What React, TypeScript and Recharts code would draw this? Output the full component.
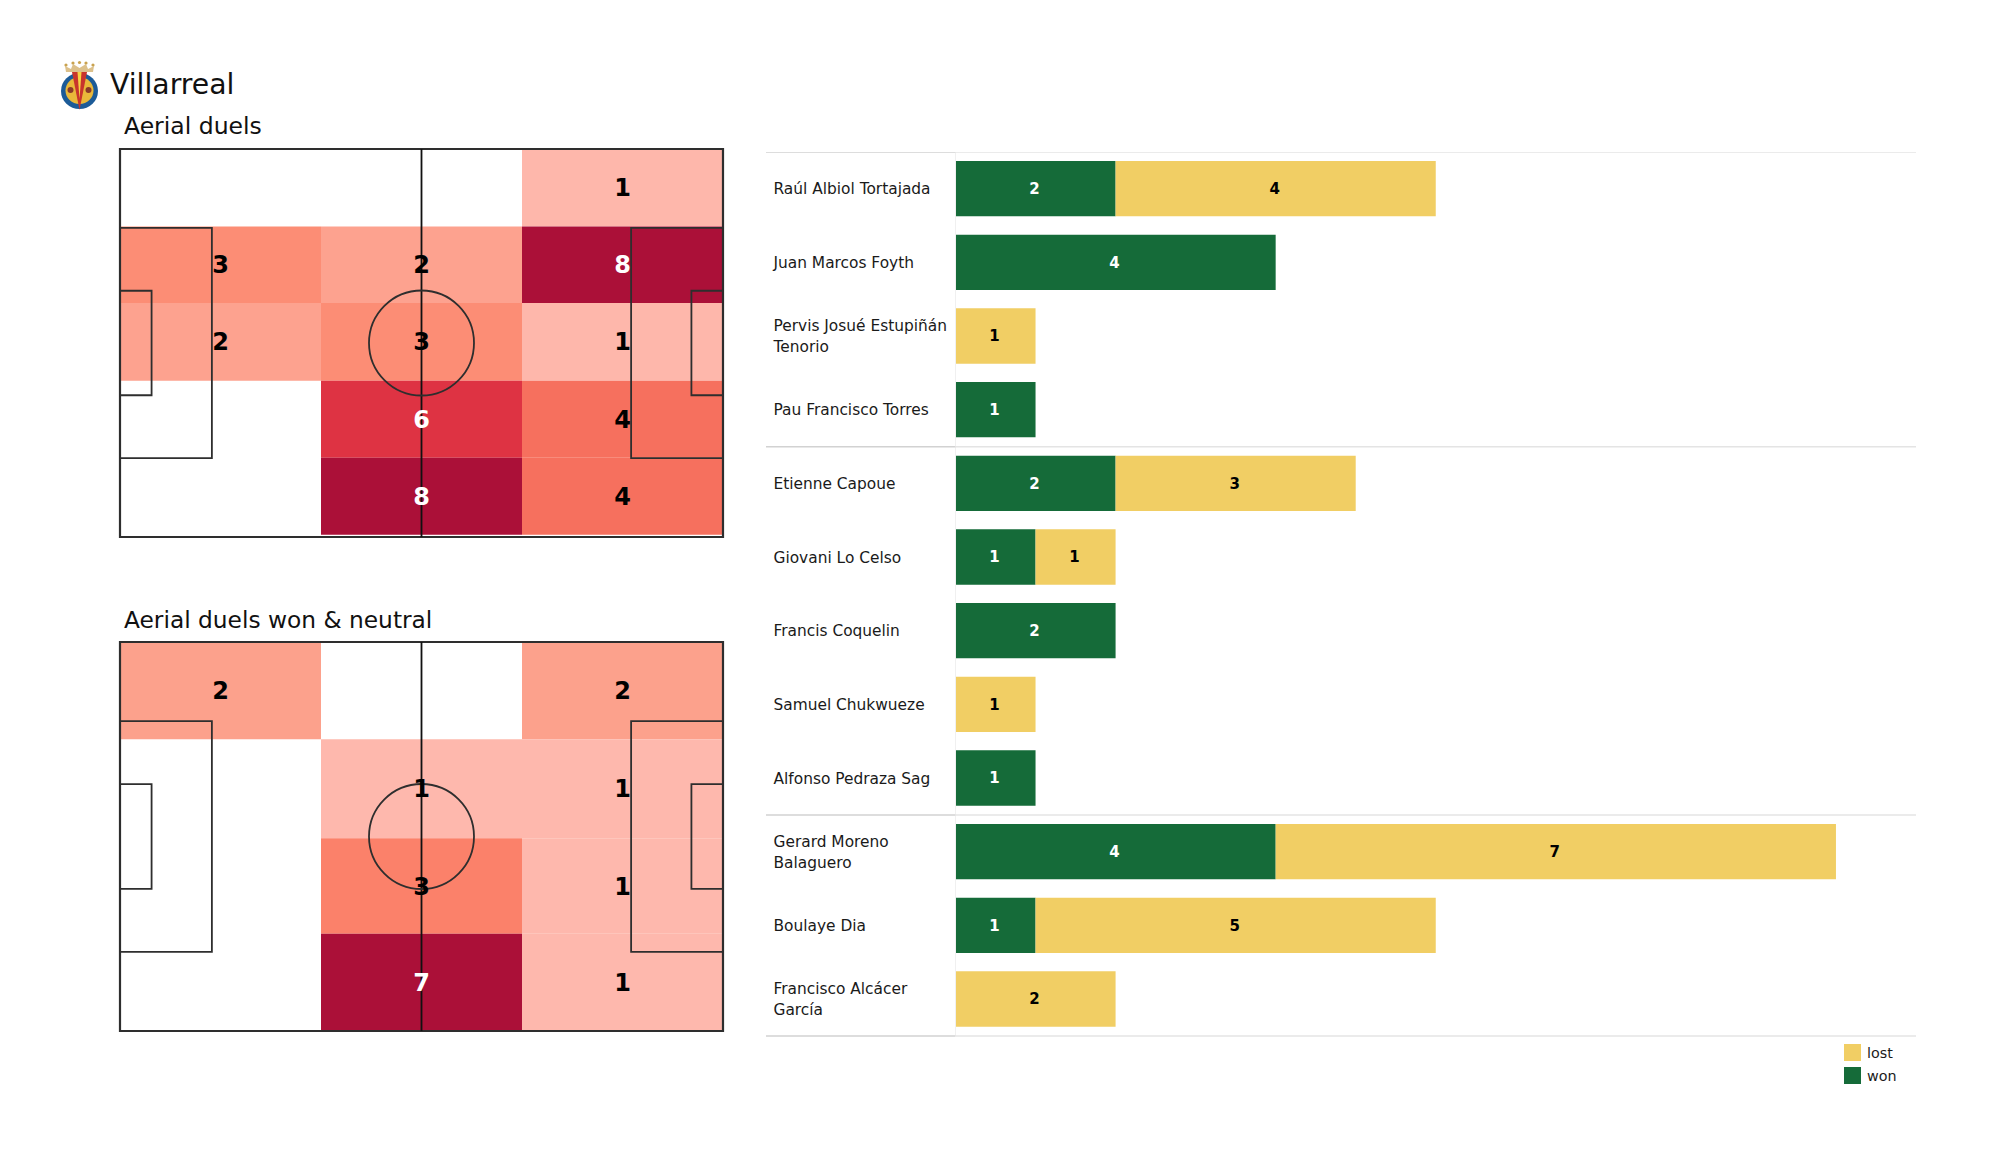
import React from 'react';
import {
  Bar,
  BarChart,
  ComposedChart,
  LabelList,
  Legend,
  ReferenceArea,
  ReferenceDot,
  ReferenceLine,
  Scatter,
  XAxis,
  YAxis,
} from 'recharts';

const FONT = '"DejaVu Sans", sans-serif';

// heatmaps: counts per zone, top row first
const columnEdges = [0, 35, 70, 105];
const duelsRowEdges = [0, 13.6, 27, 40.6, 54.1, 67.6];
const duelsCounts = [
  [0, 0, 1],
  [3, 2, 8],
  [2, 3, 1],
  [0, 6, 4],
  [0, 8, 4],
];
const wonRowEdges = [0, 17, 34.3, 51, 68];
const wonCounts = [
  [2, 0, 2],
  [0, 1, 1],
  [0, 3, 1],
  [0, 7, 1],
];
const duelsShades: Record<number, string> = {
  1: '#feb7ab', 2: '#fda28f', 3: '#fc8d75', 4: '#f6705e', 6: '#de3343', 8: '#ab1038',
};
const wonShades: Record<number, string> = {
  1: '#feb8ad', 2: '#fca18c', 3: '#fb816a', 7: '#ab1038',
};

// bars
const players = [
  'Raúl Albiol Tortajada',
  'Juan Marcos Foyth',
  'Pervis Josué Estupiñán|Tenorio',
  'Pau Francisco Torres',
  'Etienne Capoue',
  'Giovani Lo Celso',
  'Francis Coquelin',
  'Samuel Chukwueze',
  'Alfonso Pedraza Sag',
  'Gerard Moreno|Balaguero',
  'Boulaye Dia',
  'Francisco Alcácer|García',
];
const wonDuels = [2, 4, 0, 1, 2, 1, 2, 0, 1, 4, 1, 0];
const lostDuels = [4, 0, 1, 0, 3, 1, 0, 1, 0, 7, 5, 2];
const groupStarts = [0, 4, 9];

const barData = players.map((name, i) => ({ name, won: wonDuels[i], lost: lostDuels[i] }));

const GREEN = '#156b39';
const YELLOW = '#f1ce64';
const LINE = '#2e2e2e';
const BAND = 73.6;
const AXIS_W = 189.5;

const PlayerTick = (props: any) => {
  const { y, payload, index } = props;
  const lines: string[] = String(payload.value).split('|');
  const startY = y - ((lines.length - 1) * 20.5) / 2;
  const rules: number[] = [];
  if (groupStarts.includes(index)) rules.push(y - BAND / 2);
  if (index === players.length - 1) rules.push(y + BAND / 2);
  return (
    <g>
      {rules.map((ry) => (
        <g key={ry}>
          <line x1={0} x2={AXIS_W} y1={ry} y2={ry} stroke="#d2d2d2" strokeWidth={1.5} />
          <line x1={AXIS_W} x2={1150} y1={ry} y2={ry} stroke="#e4e4e4" strokeWidth={1.5} />
        </g>
      ))}
      {lines.map((line, i) => (
        <text
          key={line}
          x={7.5}
          y={startY + i * 20.5}
          dy="0.36em"
          fontFamily={FONT}
          fontSize={15.4}
          fill="#1a1a1a"
        >
          {line}
        </text>
      ))}
    </g>
  );
};

const CountMark = (props: any) => {
  const { cx, cy, payload } = props;
  return (
    <text
      x={cx}
      y={cy}
      dy="0.36em"
      textAnchor="middle"
      fontFamily={FONT}
      fontWeight="bold"
      fontSize={24}
      fill={payload.count >= 6 ? '#ffffff' : '#000000'}
    >
      {payload.count}
    </text>
  );
};

const PitchHeat = ({ counts, rows, shades, height }: { counts: number[][]; rows: number[]; shades: Record<number, string>; height: number }) => {
  const cells = counts.flatMap((row, r) =>
    row.map((count, c) => ({
      count,
      x1: columnEdges[c],
      x2: columnEdges[c + 1],
      y1: rows[r],
      y2: rows[r + 1],
      x: (columnEdges[c] + columnEdges[c + 1]) / 2,
      y: (rows[r] + rows[r + 1]) / 2,
    })),
  ).filter((c) => c.count > 0);

  const markings = { fill: 'none', stroke: LINE, strokeWidth: 1.8, ifOverflow: 'visible' as const };

  return (
    <ComposedChart width={609} height={height} margin={{ top: 2, right: 4, bottom: 4, left: 2 }}>
      <XAxis type="number" dataKey="x" domain={[0, 105]} hide />
      <YAxis type="number" dataKey="y" domain={[0, 68]} reversed hide />
      {cells.map((c) => (
        <ReferenceArea
          key={`${c.x1}-${c.y1}`}
          x1={c.x1}
          x2={c.x2}
          y1={c.y1}
          y2={c.y2}
          fill={shades[c.count]}
          fillOpacity={1}
          stroke="none"
        />
      ))}
      <ReferenceArea x1={0} x2={105} y1={0} y2={68} {...markings} strokeWidth={2.2} />
      <ReferenceArea x1={0} x2={16} y1={13.84} y2={54.16} {...markings} />
      <ReferenceArea x1={0} x2={5.5} y1={24.84} y2={43.16} {...markings} />
      <ReferenceArea x1={89} x2={105} y1={13.84} y2={54.16} {...markings} />
      <ReferenceArea x1={99.5} x2={105} y1={24.84} y2={43.16} {...markings} />
      <ReferenceLine x={52.5} stroke="#111111" strokeWidth={1.8} ifOverflow="visible" />
      <ReferenceDot x={52.5} y={34} r={52.5} fill="none" stroke={LINE} strokeWidth={1.8} ifOverflow="visible" />
      <Scatter data={cells} dataKey="y" shape={CountMark} isAnimationActive={false} />
    </ComposedChart>
  );
};

const DuelsLegend = () => (
  <div style={{ fontFamily: FONT, fontSize: 14.3, color: '#1a1a1a' }}>
    {[
      ['lost', YELLOW],
      ['won', GREEN],
    ].map(([label, colour]) => (
      <div key={label} style={{ display: 'flex', alignItems: 'center', height: 23 }}>
        <span style={{ width: 17, height: 17, background: colour, marginRight: 6 }} />
        {label}
      </div>
    ))}
  </div>
);

const Crest = () => (
  <g>
    <path d="M66 72 L65 66 L71 69 L73 64 L79.5 68 L86 64 L88 69 L94 66 L93 72 Z" fill="#dcc08a" />
    <circle cx={66} cy={65} r={1.6} fill="#c9a24e" />
    <circle cx={73} cy={63} r={1.6} fill="#c9a24e" />
    <circle cx={79.5} cy={62.5} r={1.6} fill="#c9a24e" />
    <circle cx={86} cy={63} r={1.6} fill="#c9a24e" />
    <circle cx={93} cy={65} r={1.6} fill="#c9a24e" />
    <ellipse cx={79.5} cy={91} rx={18.5} ry={18} fill="#1c5b98" />
    <ellipse cx={79.5} cy={90.5} rx={14} ry={13.5} fill="#e9b83a" />
    <path d="M72 72 L79.5 110 L87 72 Z" fill="#c8342c" />
    <path d="M77.5 72 L79.5 99 L81.5 72 Z" fill="#f4d243" />
    <circle cx={70.5} cy={90} r={3} fill="#8a3a2a" />
    <circle cx={88.5} cy={90} r={3} fill="#8a3a2a" />
  </g>
);

export default function App() {
  return (
    <div style={{ position: 'absolute', left: 0, top: 0, width: 2000, height: 1175, background: '#fff', overflow: 'hidden' }}>
      <svg width={2000} height={1175} style={{ position: 'absolute', left: 0, top: 0 }}>
        <Crest />
        <text x={110} y={93.5} fontFamily={FONT} fontSize={28.3} fill="#111">Villarreal</text>
        <text x={124} y={133.5} fontFamily={FONT} fontSize={23.5} fill="#111">Aerial duels</text>
        <text x={124} y={628} fontFamily={FONT} fontSize={23.3} fill="#111">Aerial duels won &amp; neutral</text>
      </svg>

      <div style={{ position: 'absolute', left: 118, top: 147 }}>
        <PitchHeat counts={duelsCounts} rows={duelsRowEdges} shades={duelsShades} height={394} />
      </div>
      <div style={{ position: 'absolute', left: 118, top: 640 }}>
        <PitchHeat counts={wonCounts} rows={wonRowEdges} shades={wonShades} height={395} />
      </div>

      <div style={{ position: 'absolute', left: 766, top: 152 }}>
        <BarChart
          width={1150}
          height={960}
          data={barData}
          layout="vertical"
          barSize={55.3}
          margin={{ top: 0, right: 0, bottom: 76, left: 0 }}
        >
          <XAxis type="number" domain={[0, 12]} hide />
          <YAxis
            type="category"
            dataKey="name"
            width={AXIS_W}
            interval={0}
            tickLine={false}
            axisLine={{ stroke: '#f0f0f0' }}
            tick={PlayerTick}
          />
          <Bar dataKey="won" stackId="duels" fill={GREEN} isAnimationActive={false}>
            <LabelList
              dataKey="won"
              position="center"
              formatter={(v: any) => (v ? v : '')}
              fill="#ffffff"
              fontFamily={FONT}
              fontWeight="bold"
              fontSize={15}
              dx={-1}
            />
          </Bar>
          <Bar dataKey="lost" stackId="duels" fill={YELLOW} isAnimationActive={false}>
            <LabelList
              dataKey="lost"
              position="center"
              formatter={(v: any) => (v ? v : '')}
              fill="#000000"
              fontFamily={FONT}
              fontWeight="bold"
              fontSize={15}
              dx={-1}
            />
          </Bar>
          <Legend
            layout="vertical"
            align="center"
            verticalAlign="middle"
            wrapperStyle={{ position: 'absolute', left: 1078, top: 889, width: 72, height: 46, margin: 0 }}
            content={DuelsLegend}
          />
        </BarChart>
      </div>
    </div>
  );
}
